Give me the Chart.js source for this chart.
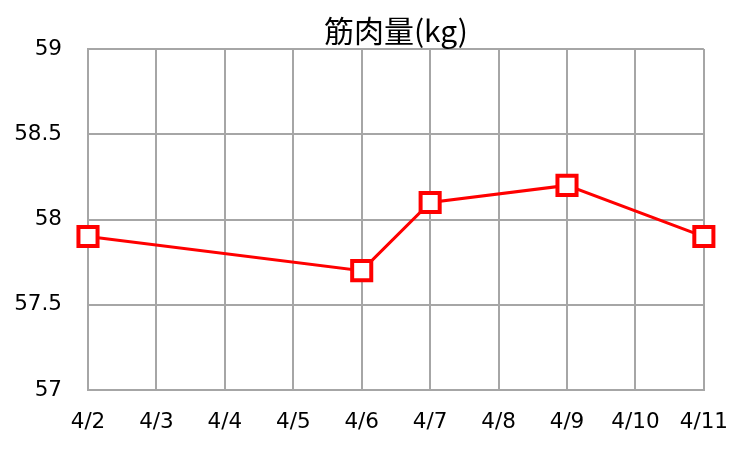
<!DOCTYPE html>
<html>
<head>
<meta charset="utf-8">
<script src="https://cdn.jsdelivr.net/npm/chart.js@4/dist/chart.umd.min.js"></script>
<style>
  html, body { margin: 0; padding: 0; background: #fff; }
  #wrap { width: 748px; height: 450px; }
</style>
</head>
<body>
<div id="wrap"><canvas id="chart" width="748" height="450"></canvas></div>
<script>
const chartTitle = '筋肉量(kg)';
const dates = ['4/2', '4/3', '4/4', '4/5', '4/6', '4/7', '4/8', '4/9', '4/10', '4/11'];
const muscle = [57.9, null, null, null, 57.7, 58.1, null, 58.2, null, 57.9];
const yTicks = [57, 57.5, 58, 58.5, 59];

const GRID = '#a6a6a6';
const RED = '#ff0000';
const tickFont = { family: 'DejaVu Sans', size: 21.5 };

// title is centred over the plot area, not the whole canvas
const areaTitle = {
  id: 'areaTitle',
  afterDraw(chart) {
    const { ctx, chartArea } = chart;
    ctx.save();
    ctx.font = '30px "Noto Sans CJK JP"';
    ctx.fillStyle = '#000';
    ctx.textAlign = 'center';
    ctx.textBaseline = 'middle';
    ctx.fillText(chartTitle, (chartArea.left + chartArea.right) / 2, 31);
    ctx.restore();
  }
};

const ctx = document.getElementById('chart').getContext('2d');
new Chart(ctx, {
  type: 'line',
  data: {
    labels: dates,
    datasets: [{
      label: chartTitle,
      data: muscle,
      spanGaps: true,
      borderColor: RED,
      borderWidth: 3,
      tension: 0,
      pointStyle: 'rect',
      pointRadius: 13.5,
      pointHoverRadius: 13.5,
      pointBorderWidth: 4,
      pointBorderColor: RED,
      pointBackgroundColor: '#ffffff'
    }]
  },
  options: {
    responsive: false,
    animation: false,
    layout: { padding: { left: 0, right: 38, top: 49, bottom: 0 } },
    plugins: {
      legend: { display: false },
      tooltip: { enabled: false },
      title: { display: false }
    },
    scales: {
      x: {
        offset: false,
        grid: { color: GRID, lineWidth: 2, drawTicks: false },
        border: { color: GRID, width: 2 },
        ticks: { color: '#000', font: tickFont, padding: 20, maxRotation: 0, autoSkip: false },
        afterFit: s => { s.height = 60; }
      },
      y: {
        min: 57,
        max: 59,
        afterBuildTicks: s => { s.ticks = yTicks.map(v => ({ value: v })); },
        grid: { color: GRID, lineWidth: 2, drawTicks: false },
        border: { color: GRID, width: 2 },
        ticks: { color: '#000', font: tickFont, padding: 26, callback: v => String(v) },
        afterFit: s => { s.width = 88; }
      }
    }
  },
  plugins: [areaTitle]
});
</script>
</body>
</html>
